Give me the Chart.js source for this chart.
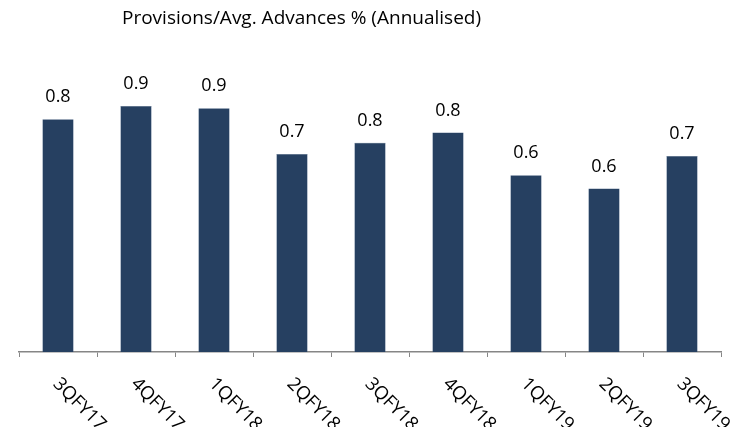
<!DOCTYPE html>
<html>
<head>
<meta charset="utf-8">
<script src="https://cdn.jsdelivr.net/npm/chart.js@4/dist/chart.umd.min.js"></script>
<style>
  html, body { margin: 0; padding: 0; background: #fff; }
  #wrap { width: 737px; height: 427px; }
</style>
</head>
<body>
<div id="wrap"><canvas id="c"></canvas></div>
<script>
const chartTitle = 'Provisions/Avg. Advances % (Annualised)';
const quarters = ['3QFY17', '4QFY17', '1QFY18', '2QFY18', '3QFY18', '4QFY18', '1QFY19', '2QFY19', '3QFY19'];
const provisionsPct = [0.843, 0.891, 0.883, 0.717, 0.758, 0.795, 0.640, 0.592, 0.710];

const FONT = "'Open Sans', 'Liberation Sans', sans-serif";

// Title, value labels above bars and slanted quarter labels
const annotate = {
  id: 'annotate',
  afterDatasetsDraw(chart) {
    const { ctx } = chart;
    const meta = chart.getDatasetMeta(0);
    const xs = chart.scales.x;
    ctx.save();
    ctx.fillStyle = '#000';

    ctx.font = `19px ${FONT}`;
    ctx.textAlign = 'left';
    ctx.textBaseline = 'middle';
    ctx.fillText(chartTitle, 122, 19);

    ctx.font = `18px ${FONT}`;
    ctx.textAlign = 'center';
    ctx.textBaseline = 'middle';
    meta.data.forEach((bar, i) => {
      ctx.fillText(provisionsPct[i].toFixed(1), bar.x, bar.y - 22);
    });

    ctx.font = `18.5px ${FONT}`;
    ctx.textAlign = 'left';
    quarters.forEach((q, i) => {
      const x = xs.getPixelForValue(i);
      ctx.save();
      ctx.translate(x - 2, xs.top + 29);
      ctx.rotate(Math.PI / 4);
      ctx.fillText(q, 0, 0);
      ctx.restore();
    });
    ctx.restore();
  }
};

new Chart(document.getElementById('c'), {
  type: 'bar',
  data: {
    labels: quarters,
    datasets: [{
      data: provisionsPct,
      backgroundColor: '#264061',
      borderColor: '#3a5478',
      borderWidth: 0.5,
      barPercentage: 0.4,
      categoryPercentage: 1.0
    }]
  },
  options: {
    responsive: true,
    maintainAspectRatio: false,
    animation: false,
    layout: { padding: { top: 76, left: 19, right: 16, bottom: 0 } },
    plugins: { legend: { display: false }, tooltip: { enabled: false }, title: { display: false } },
    scales: {
      x: {
        grid: { offset: true, drawOnChartArea: false, drawTicks: true, tickLength: 5, color: '#868686' },
        border: { display: true, color: '#868686', width: 1.5 },
        ticks: { display: false },
        afterFit(scale) { scale.height = 75; }
      },
      y: { display: false, min: 0, max: 1.0 }
    }
  },
  plugins: [annotate]
});
</script>
</body>
</html>
